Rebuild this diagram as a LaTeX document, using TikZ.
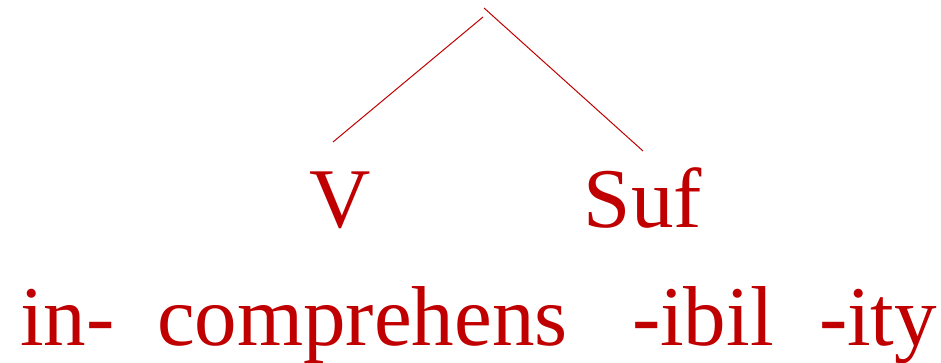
\documentclass[tikz,border=0pt]{standalone}
\usepackage{fontspec}
\setmainfont{Liberation Serif}
\definecolor{treered}{RGB}{192,0,0}
\begin{document}
\begin{tikzpicture}[x=1pt,y=1pt,
  lbl/.style={inner sep=0pt,outer sep=0pt,text=treered,font=\fontsize{85}{100}\selectfont},
  branch/.style={draw=treered,line width=1pt}]
\useasboundingbox (0,0) rectangle (941,362);
% category labels (baseline at y=227 px from top)
\node[lbl,anchor=base] (V) at (340,135) {V};
\node[lbl,anchor=base] (Suf) at (643,135) {Suf};
% morphemes (baseline at y=345 px from top)
\node[lbl,anchor=base west] (in) at (20,17) {in-};
\node[lbl,anchor=base west] (comp) at (157,17) {comprehens};
\node[lbl,anchor=base west] (ibil) at (632,17) {-ibil};
\node[lbl,anchor=base west] (ity) at (819,17) {-ity};
% branch end points
\coordinate (topL) at (483,345);
\coordinate (topR) at (484,354);
\coordinate (vtop) at (333,220);
\coordinate (suftop) at (643,211);
\draw[branch] (vtop) -- (topL);
\draw[branch] (topR) -- (suftop);
\end{tikzpicture}
\end{document}
